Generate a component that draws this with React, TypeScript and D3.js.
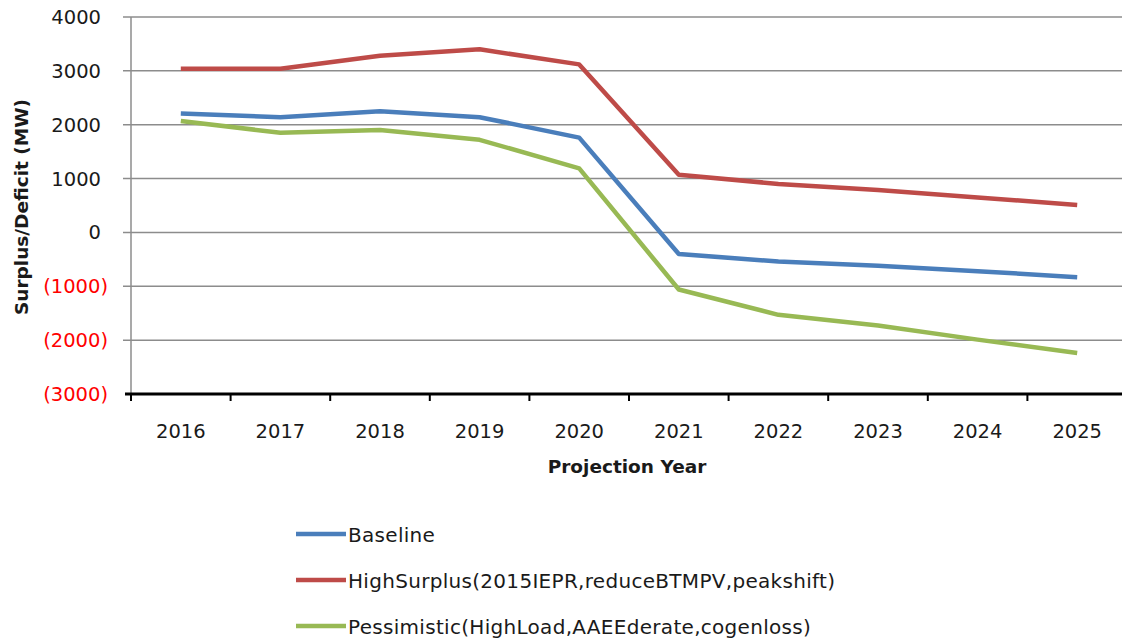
import * as d3 from 'd3';
import React from 'react';

const years = ['2016', '2017', '2018', '2019', '2020', '2021', '2022', '2023', '2024', '2025'];
const baseline = [2210, 2140, 2250, 2140, 1760, -400, -540, -620, -720, -830];
const highSurplus = [3040, 3040, 3280, 3400, 3120, 1070, 900, 790, 650, 510];
const pessimistic = [2070, 1850, 1900, 1720, 1190, -1060, -1530, -1730, -1990, -2240];
const yTicks = [4000, 3000, 2000, 1000, 0, -1000, -2000, -3000];

const seriesNames = [
  'Baseline',
  'HighSurplus(2015IEPR,reduceBTMPV,peakshift)',
  'Pessimistic(HighLoad,AAEEderate,cogenloss)',
];
const seriesColors = ['#4a7ebb', '#be4b48', '#98b954'];

const font = '"DejaVu Sans", sans-serif';

export default function App() {
  const width = 1122;
  const height = 639;
  const left = 131;
  const right = 1127;
  const top = 17;
  const bottom = 394;

  const x = d3.scaleBand().domain(years).range([left, right]);
  const y = d3.scaleLinear().domain([-3000, 4000]).range([bottom, top]);
  const cx = (yr: string) => (x(yr) ?? 0) + x.bandwidth() / 2;

  const line = d3
    .line<number>()
    .x((_, i) => cx(years[i]))
    .y((d) => y(d));

  const series = [baseline, highSurplus, pessimistic];
  const fmt = (v: number) => (v < 0 ? `(${Math.abs(v)})` : String(v));

  return (
    <svg
      width={width}
      height={height}
      style={{ position: 'absolute', left: 0, top: 0, background: '#fff' }}
      fontFamily={font}
    >
      {/* gridlines + y labels */}
      {yTicks.map((t) => (
        <g key={t}>
          {t !== -3000 && (
            <line x1={left - 8} x2={width} y1={y(t)} y2={y(t)} stroke="#8c8c8c" strokeWidth={1.5} />
          )}
          <text
            x={t < 0 ? 108 : 101}
            y={y(t) + 7}
            textAnchor="end"
            fontSize={19.5}
            fill={t < 0 ? '#ff0000' : '#1a1a1a'}
          >
            {fmt(t)}
          </text>
        </g>
      ))}
      <line x1={left} x2={left} y1={top} y2={bottom} stroke="#8c8c8c" strokeWidth={1.5} />

      {/* x axis */}
      <line x1={left - 6} x2={width} y1={bottom} y2={bottom} stroke="#000" strokeWidth={3} />
      {years.map((yr) => (
        <line
          key={yr}
          x1={x(yr)}
          x2={x(yr)}
          y1={bottom}
          y2={bottom + 7}
          stroke="#000"
          strokeWidth={2}
        />
      ))}
      {years.map((yr) => (
        <text key={yr} x={cx(yr)} y={438} textAnchor="middle" fontSize={19.5} fill="#1a1a1a">
          {yr}
        </text>
      ))}

      {/* series */}
      {series.map((s, i) => (
        <path
          key={seriesNames[i]}
          d={line(s) ?? ''}
          fill="none"
          stroke={seriesColors[i]}
          strokeWidth={4.5}
          strokeLinejoin="round"
        />
      ))}

      {/* axis titles */}
      <text x={627} y={473} textAnchor="middle" fontSize={18.5} fontWeight="bold" fill="#1a1a1a">
        Projection Year
      </text>
      <text
        transform="translate(28, 207) rotate(-90)"
        textAnchor="middle"
        fontSize={18.5}
        fontWeight="bold"
        fill="#1a1a1a"
      >
        Surplus/Deficit  (MW)
      </text>

      {/* legend */}
      {seriesNames.map((name, i) => {
        const ly = 534 + i * 46;
        return (
          <g key={name}>
            <line x1={296} x2={346} y1={ly} y2={ly} stroke={seriesColors[i]} strokeWidth={4.5} />
            <text x={348} y={ly + 7.5} fontSize={20} letterSpacing={0.3} fill="#1a1a1a">
              {name}
            </text>
          </g>
        );
      })}
    </svg>
  );
}
